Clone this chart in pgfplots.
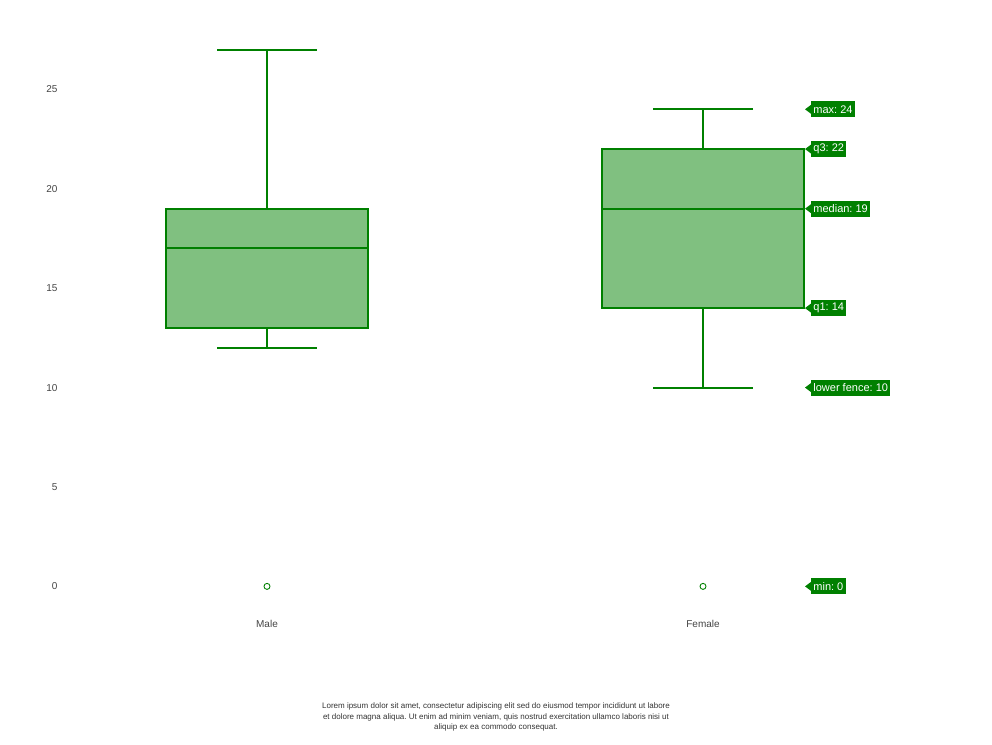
\documentclass[border=0pt]{standalone}
\usepackage{pgfplots}
\pgfplotsset{compat=1.18}
\usepgfplotslibrary{statistics}
\usepackage{fontspec}
\setmainfont{Liberation Sans}
\frenchspacing
\definecolor{cg}{RGB}{0,128,0}
\definecolor{cf}{RGB}{128,192,128}
\definecolor{tk}{RGB}{68,68,68}
\definecolor{cap}{RGB}{51,51,51}
\newcommand{\callout}[2]{%
  \node[fill=cg, text=white, anchor=west, inner xsep=2.2pt, inner ysep=0pt, minimum height=16pt, font=\fontsize{11}{13}\selectfont] (c#1) at (axis cs:811,#1) {#2};
  \fill[cg] (axis cs:805,#1) -- ([yshift=4.5pt]c#1.west) -- ([yshift=-4.5pt]c#1.west) -- cycle;
}
\begin{document}
\begin{tikzpicture}
\useasboundingbox (0pt,0pt) rectangle (992pt,744pt);
\begin{axis}[
  at={(62pt,127.8pt)}, anchor=south west,
  scale only axis, width=868pt, height=586.4pt,
  xmin=62, xmax=930, ymin=-1.5, ymax=28,
  axis line style={draw=none},
  major tick length=0pt,
  ytick={0,5,10,15,20,25},
  xtick={267,703}, xticklabels={Male,Female},
  tick label style={font=\fontsize{10}{12}\selectfont, text=tk},
  xticklabel style={yshift=-0.6pt},
  yticklabel style={xshift=-1pt},
  /pgf/number format/assume math mode=true,
  clip=false,
  boxplot/draw direction=y,
  boxplot/every box/.style={draw=cg, fill=cf, line width=2pt},
  boxplot/every median/.style={draw=cg, line width=2pt},
  boxplot/every whisker/.style={draw=cg, line width=2pt},
]
\addplot[draw=cg, fill=cf, line width=2pt, mark=o, mark size=3pt, mark options={draw=cg, fill=white, line width=0.9pt},
  boxplot prepared={draw position=267, lower whisker=12, lower quartile=13, median=17, upper quartile=19, upper whisker=27, box extend=202, whisker extend=100}]
  coordinates {(0,0)};
\addplot[draw=cg, fill=cf, line width=2pt, mark=o, mark size=3pt, mark options={draw=cg, fill=white, line width=0.9pt},
  boxplot prepared={draw position=703, lower whisker=10, lower quartile=14, median=19, upper quartile=22, upper whisker=24, box extend=202, whisker extend=100}]
  coordinates {(0,0)};
\callout{24}{max: 24}
\callout{22}{q3: 22}
\callout{19}{median: 19}
\callout{14}{q1: 14}
\callout{10}{lower fence: 10}
\callout{0}{min: 0}
\end{axis}
\node[align=center, text=cap, font=\fontsize{8}{10.5}\selectfont] at (496pt,27pt) {Lorem ipsum dolor sit amet, consectetur adipiscing elit sed do eiusmod tempor incididunt ut labore\\et dolore magna aliqua. Ut enim ad minim veniam, quis nostrud exercitation ullamco laboris nisi ut\\aliquip ex ea commodo consequat.};
\end{tikzpicture}
\end{document}
